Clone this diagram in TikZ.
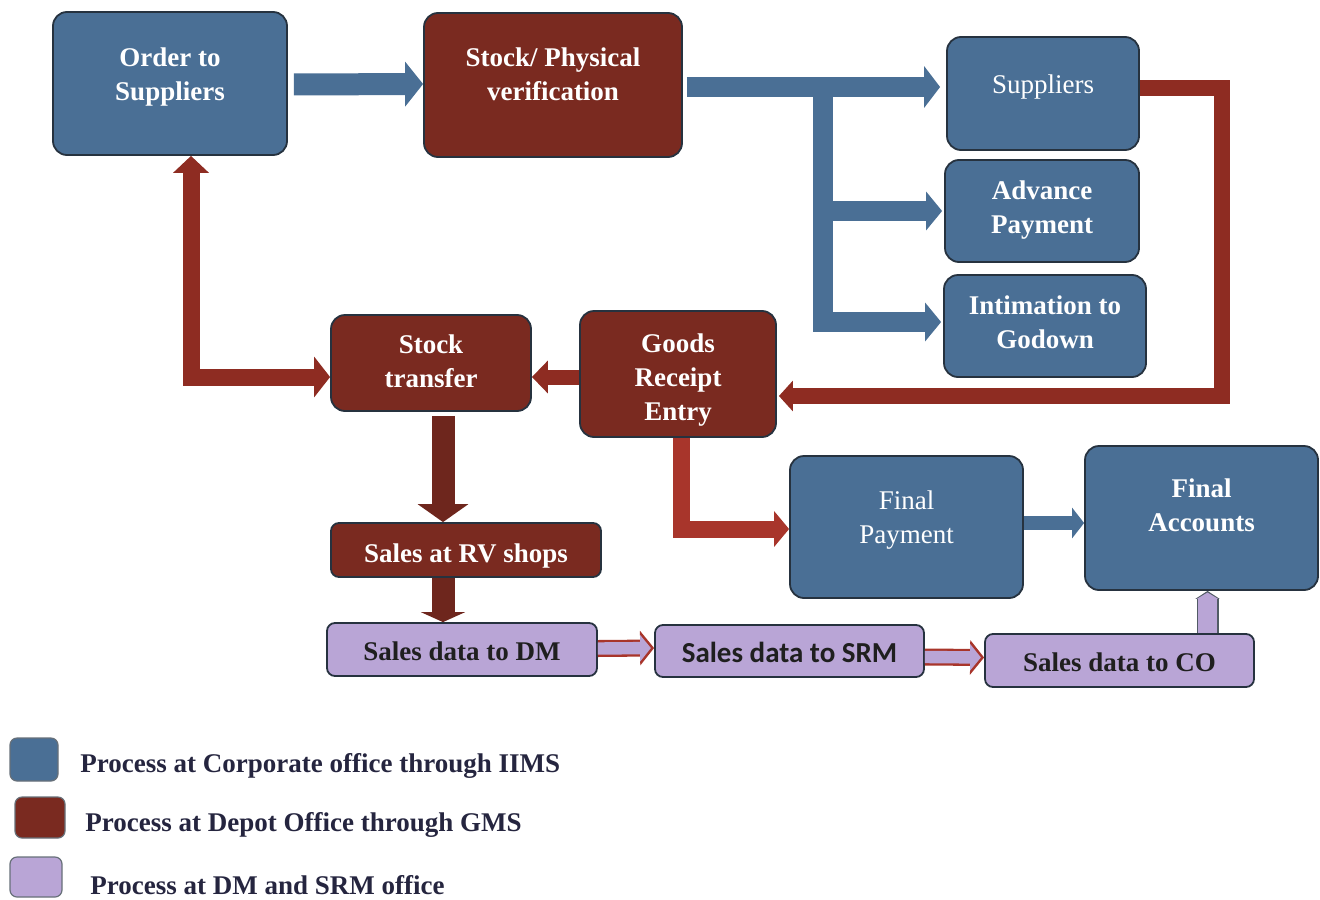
\documentclass[tikz,border=0pt]{standalone}
\usepackage{fontspec}
\setmainfont{Liberation Serif}
\newfontfamily\calibfont{Carlito}
\usepackage{tikz}
\usetikzlibrary{positioning, arrows.meta, calc}
\definecolor{iimsblue}{HTML}{4A6F95}
\definecolor{gmsred}{HTML}{7A2A20}
\definecolor{flowred}{HTML}{8E2C22}
\definecolor{brightred}{HTML}{A8352B}
\definecolor{dmpurple}{HTML}{B9A5D6}
\definecolor{edgegray}{HTML}{26323F}
\definecolor{legendtext}{HTML}{25253F}
\newcommand{\boxtext}[2]{\raisebox{#1}[0pt][0pt]{\begin{tabular}{@{}c@{}}#2\end{tabular}}}

\begin{document}
\begin{tikzpicture}[x=0.5pt, y=-0.5pt]
\tikzstyle{box}=[draw=edgegray, line width=0.9pt, rectangle, rounded corners=7pt, inner sep=0pt, text=white, font=\bfseries\fontsize{13.5}{17}\selectfont]
\tikzstyle{iims}=[box, fill=iimsblue]
\tikzstyle{gms}=[box, fill=gmsred]
\tikzstyle{dmsrm}=[box, fill=dmpurple, text=black!88, rounded corners=4pt]
\tikzstyle{keybox}=[draw=edgegray!70, line width=0.6pt, rectangle, rounded corners=3.5pt, inner sep=0pt]
\tikzstyle{keytext}=[anchor=west, inner sep=0pt, text=legendtext, font=\bfseries\fontsize{13.5}{17}\selectfont]
\tikzstyle{blueflow}=[draw=iimsblue, line join=miter]
\tikzstyle{redflow}=[draw=flowred, line join=miter]
\tikzstyle{hollow}=[draw=brightred, line width=8.5pt, -{Triangle[length=7pt, width=17pt]}, postaction={draw=dmpurple, line width=6.2pt, shorten >=1.6pt, -{Triangle[length=5.4pt, width=13pt]}}]

\useasboundingbox (0,0) rectangle (1320,899);

\node[iims, minimum width=117pt, minimum height=71.5pt](order) at (170,83.5){\boxtext{0pt}{Order to\\Suppliers}};
\node[gms, minimum width=129pt, minimum height=72pt](verif) at (553,85){\boxtext{0.5pt}{Stock/ Physical\\verification}};
\node[iims, minimum width=96pt, minimum height=56.5pt, font=\fontsize{13.5}{17}\selectfont](supp) at (1043,93.5){\boxtext{0pt}{Suppliers}};
\node[iims, minimum width=97pt, minimum height=51pt](adv) at (1042,211){\boxtext{-3pt}{Advance\\Payment}};
\node[iims, minimum width=101pt, minimum height=51pt](intim) at (1045,326){\boxtext{-3pt}{Intimation to\\Godown}};

\node[gms, minimum width=100pt, minimum height=48pt](stran) at (431,363){\boxtext{-4pt}{Stock\\transfer}};
\node[gms, minimum width=98pt, minimum height=63pt](gre) at (678,374){\boxtext{-6.5pt}{Goods\\Receipt\\Entry}};
\node[iims, minimum width=116.5pt, minimum height=71pt, font=\fontsize{13.5}{17}\selectfont](fpay) at (906.5,527){\boxtext{0pt}{Final\\Payment}};
\node[iims, minimum width=116.5pt, minimum height=72pt](facc) at (1201.5,518){\boxtext{1.5pt}{Final\\Accounts}};
\node[gms, minimum width=135pt, minimum height=27pt, rounded corners=4pt](rvshop) at (466,550){\boxtext{-6.5pt}{Sales at RV shops}};

\node[dmsrm, minimum width=135pt, minimum height=26.5pt](dm) at (462,649.5){\boxtext{-5.5pt}{Sales data to DM}};
\node[dmsrm, minimum width=134.5pt, minimum height=26pt, font=\calibfont\bfseries\fontsize{14.5}{17}\selectfont](srm) at (789.5,651){\boxtext{-6pt}{Sales data to SRM}};
\node[dmsrm, minimum width=134.5pt, minimum height=26.5pt](co) at (1119.5,660.5){\boxtext{-5.5pt}{Sales data to CO}};

\coordinate (split) at ($(verif.east)+(140,2)$);

\path[draw, blueflow, line width=11pt, -{Triangle[length=9pt, width=22pt]}] ($(order.east)+(6,1)$) -- ($(verif.west)+(0,-1)$);
\path[draw, blueflow, line width=10pt, -{Triangle[length=8pt, width=19pt]}] (split) |- ($(intim.west)+(-2,-4)$);
\path[draw, blueflow, line width=10pt, -{Triangle[length=8pt, width=19pt]}] (split |- adv.west) -- ($(adv.west)+(-2,0)$);
\path[draw, blueflow, line width=10pt, -{Triangle[length=8pt, width=20.5pt]}] ($(verif.east)+(4,2)$) -- ($(verif.east -| supp.west)+(-6,2)$);

\path[draw, redflow, line width=8pt, -{Triangle[length=7pt, width=15pt]}] ($(supp.east)+(0,-5)$) -- ++(82,0) |- ($(gre.east)+(2,22)$);
\path[draw, redflow, line width=7.5pt, -{Triangle[length=8pt, width=16pt]}] ($(gre.west)+(0,3)$) -- ($(stran.east)+(0,14)$);
\path[draw, redflow, line width=8.5pt, {Triangle[length=8.5pt, width=17.5pt]}-{Triangle[length=8pt, width=20pt]}] ($(order.south)+(21,0)$) |- ($(stran.west)+(0,14)$);
\path[draw, draw=gmsred!90!black, line width=11.5pt, -{Triangle[length=9pt, width=25pt]}] ($(stran.south)+(12,4)$) -- ($(rvshop.north)+(-23,0)$);
\path[draw, draw=gmsred!90!black, line width=11.5pt, -{Triangle[length=5pt, width=22pt]}] ($(rvshop.south)+(-23,0)$) -- ($(dm.north)+(-19,0)$);
\path[draw, draw=brightred, line width=8.5pt, line join=miter, -{Triangle[length=7.5pt, width=17.5pt]}] ($(gre.south)+(3,0)$) |- ($(fpay.west)+(0,2)$);
\path[draw, blueflow, line width=7pt, -{Triangle[length=6pt, width=15pt]}] ($(fpay.east)+(0,-4)$) -- ($(facc.west)+(0,5)$);

\path[draw, hollow] ($(dm.east)+(0,-1)$) -- ($(srm.west)+(0,-3)$);
\path[draw, hollow] ($(srm.east)+(0,6)$) -- ($(co.west)+(0,-3)$);
\path[draw, draw=edgegray!80, line width=11pt, -{Triangle[length=4pt, width=12pt]}, postaction={draw=dmpurple, line width=9.4pt, shorten >=0.8pt, -{Triangle[length=3.2pt, width=10.5pt]}}] ($(co.north)+(88,0)$) -- ($(facc.south)+(6,0)$);

\node[keybox, fill=iimsblue, minimum width=24pt, minimum height=21.5pt](key1) at (34,759.5){};
\node[keybox, fill=gmsred, minimum width=25pt, minimum height=20.5pt](key2) at (40,817.5){};
\node[keybox, fill=dmpurple, minimum width=26pt, minimum height=20pt](key3) at (36,877){};
\node[keytext](key1txt) at (80,766){Process at Corporate office through IIMS};
\node[keytext](key2txt) at (85,825){Process at Depot Office through GMS};
\node[keytext](key3txt) at (90,885){Process at DM and SRM office};

\end{tikzpicture}
\end{document}
